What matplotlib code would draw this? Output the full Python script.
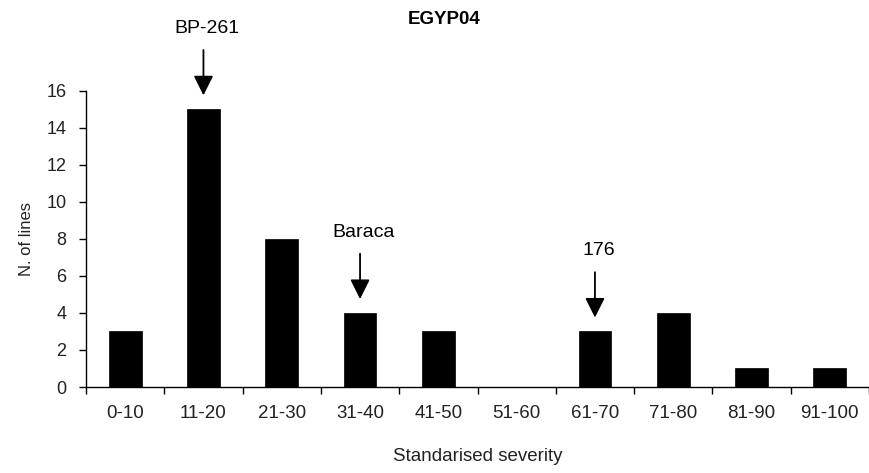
import matplotlib

matplotlib.use("Agg")
import matplotlib.pyplot as plt  # noqa: E402
import numpy as np  # noqa: E402

# data
categories = ["0-10", "11-20", "21-30", "31-40", "41-50",
              "51-60", "61-70", "71-80", "81-90", "91-100"]
n_lines = [3, 15, 8, 4, 3, 0, 3, 4, 1, 1]
marked_labels = ["BP-261", "Baraca", "176"]
marked_classes = ["11-20", "31-40", "61-70"]

plt.rcParams["font.family"] = ["Liberation Sans", "DejaVu Sans"]

fig = plt.figure(figsize=(8.69, 4.73), dpi=100)
ax = fig.add_axes([86 / 869, 1 - 387 / 473, 783 / 869, (387 - 90.7) / 473])

x = np.arange(len(categories))
ax.bar(x, n_lines, width=0.42, color="black", edgecolor="black", linewidth=0.5)

ax.set_xlim(-0.5, len(categories) - 0.5)
ax.set_ylim(0, 16)
ax.set_yticks(range(0, 17, 2))
ax.set_xticks(x)
ax.set_xticklabels(categories)
# ticks sit on the category boundaries, labels under the bars
ax.set_xticks(np.arange(len(categories) + 1) - 0.5, minor=True)
ax.tick_params(axis="x", which="major", length=0, pad=13, labelsize=13.5, colors="#222222")
ax.tick_params(axis="x", which="minor", length=5, width=1, direction="out")
ax.tick_params(axis="y", length=5, width=1, direction="out", pad=9,
               labelsize=13, colors="#222222")
ax.tick_params(axis="both", color="black")

for side in ("top", "right"):
    ax.spines[side].set_visible(False)
for side in ("left", "bottom"):
    ax.spines[side].set_linewidth(1)

ax.set_xlabel("Standarised severity", fontsize=13.5, labelpad=19, color="#222222")
ax.set_ylabel("N. of lines", fontsize=12, labelpad=9, color="#222222")
fig.text(444 / 869, 1 - 20 / 473, "EGYP04", ha="center", va="center",
         fontsize=13.5, fontweight="bold")

for label, cls in zip(marked_labels, marked_classes):
    i = categories.index(cls)
    h = n_lines[i]
    ax.annotate("", xy=(i, h + 0.75), xytext=(i, h + 3.2),
                arrowprops=dict(arrowstyle="-|>", color="black", lw=1.3,
                                mutation_scale=30, shrinkA=0, shrinkB=0),
                annotation_clip=False)
    ax.text(i + 0.05, h + 4.35, label, ha="center", va="center", fontsize=14,
            clip_on=False)

fig.savefig("out.png", dpi=100)
